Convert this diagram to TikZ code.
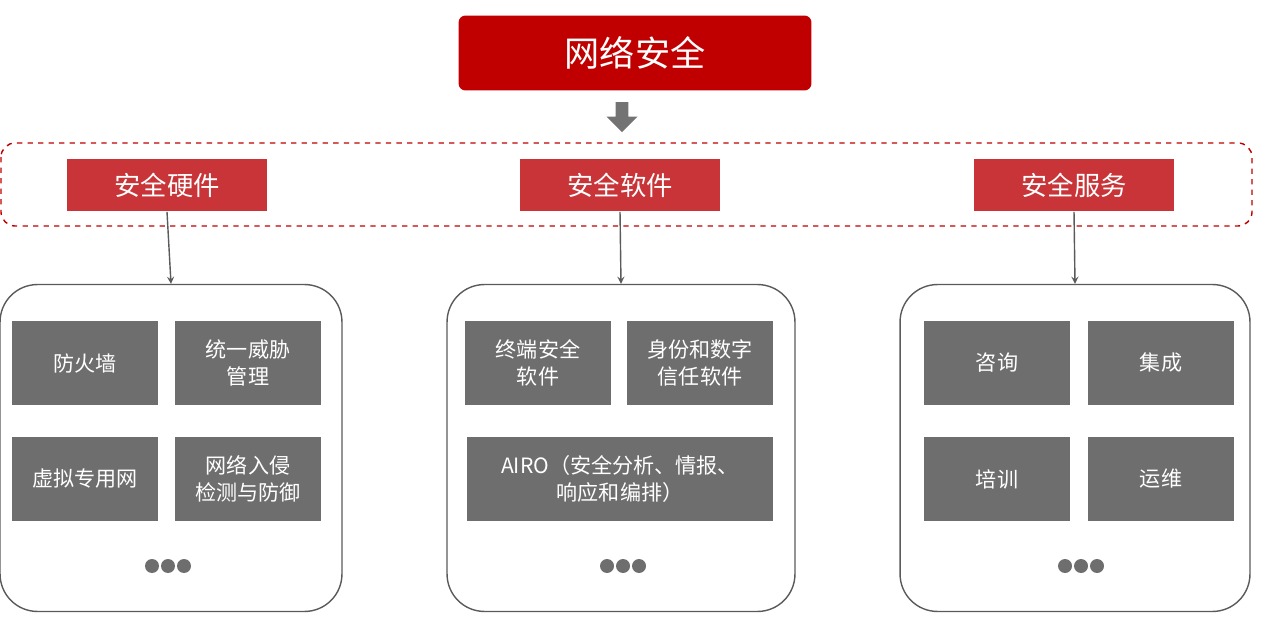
\documentclass[tikz,border=0pt]{standalone}
\usepackage{fontspec}
\setmainfont{Noto Sans CJK SC}
\usepackage{xcolor}
\definecolor{topred}{RGB}{192,0,0}
\definecolor{headred}{RGB}{200,52,55}
\definecolor{cellgray}{RGB}{110,110,110}
\definecolor{linegray}{RGB}{90,90,90}
\usetikzlibrary{positioning,shapes.arrows}
\tikzstyle{cell} = [
    rectangle, text centered, align=center,
    minimum width=2.92cm,
    minimum height=1.7cm,
    fill=cellgray, text=white,
    font=\fontsize{12}{15}\selectfont,
]
\tikzstyle{head} = [
    rectangle, text centered,
    minimum width=4cm,
    minimum height=1.06cm,
    fill=headred, text=white,
    font=\fontsize{15}{18}\selectfont,
]
\tikzstyle{group} = [
    rectangle, rounded corners=0.75cm,
    draw=linegray, thick,
    minimum height=6.54cm,
]
\tikzstyle{dot} = [circle, fill=cellgray, inner sep=0pt, minimum size=0.28cm]
\tikzstyle{arrow} = [->,>=stealth, thick, draw=linegray]

\begin{document}
\begin{tikzpicture}[x=0.02cm,y=-0.02cm]
    \useasboundingbox (0,0) rectangle (1280,634);
    % top
    \node (top) at (635,53) [rectangle, rounded corners=4pt, fill=topred, text=white,
        minimum width=7.06cm, minimum height=1.5cm,
        font=\fontsize{20}{24}\selectfont] {网络安全};
    \node (down) at (622,114) [single arrow, shape border rotate=270, fill=linegray!85,
        minimum height=0.6cm, minimum width=0.62cm, single arrow head extend=0.06cm,
        inner sep=1pt] {};
    \draw [topred, dashed, thick, rounded corners=8pt] (1,143) rectangle (1252,226);

    % headers
    \node (hw) at (167,185) [head] {安全硬件};
    \node (sw) at (620,185) [head] {安全软件};
    \node (sv) at (1074,185) [head] {安全服务};

    % groups
    \node (ghw) at (171,448) [group, minimum width=6.84cm] {};
    \node (gsw) at (621,448) [group, minimum width=6.96cm] {};
    \node (gsv) at (1075,448) [group, minimum width=7.0cm] {};
    \draw [arrow] (hw.south) to (ghw.north);
    \draw [arrow] (sw.south) to (gsw.north);
    \draw [arrow] (sv.south) to (gsv.north);

    % cells
    \node (c1) at (85,363) [cell] {防火墙};
    \node (c2) at (248,363) [cell] {统一威胁\\管理};
    \node (c3) at (85,479) [cell] {虚拟专用网};
    \node (c4) at (248,479) [cell] {网络入侵\\检测与防御};
    \node (c5) at (538,363) [cell] {终端安全\\软件};
    \node (c6) at (700,363) [cell] {身份和数字\\信任软件};
    \node (c7) at (620,479) [cell, minimum width=6.12cm] {AIRO（安全分析、情报、\\响应和编排）};
    \node (c8) at (997,363) [cell] {咨询};
    \node (c9) at (1161,363) [cell] {集成};
    \node (c10) at (997,479) [cell] {培训};
    \node (c11) at (1161,479) [cell] {运维};

    % dots
    \foreach \x in {168,623,1081} {
        \foreach \d in {-1,0,1} {
            \node [dot] at (\x+16*\d,566) {};
        }
    }
\end{tikzpicture}
\end{document}
